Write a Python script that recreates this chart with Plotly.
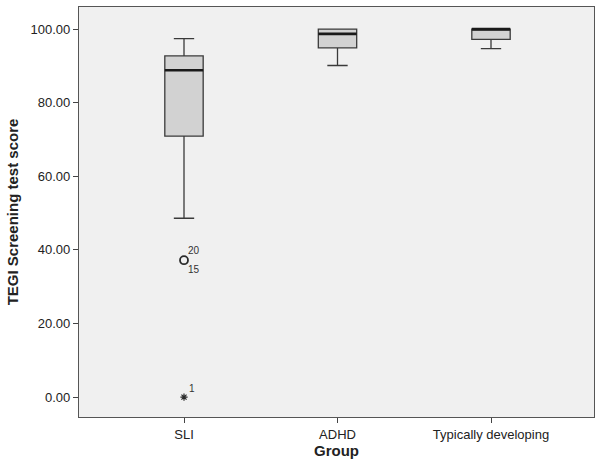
import plotly.graph_objects as go

groups = ["SLI", "ADHD", "Typically developing"]
q1 = [70.9, 94.9, 97.2]
median = [88.8, 98.7, 100.0]
q3 = [92.7, 100.0, 100.0]
lowerfence = [48.6, 90.1, 94.7]
upperfence = [97.4, 100.0, 100.0]

outlier_group = ["SLI", "SLI"]
outlier_value = [37.2, 0.0]
outlier_symbol = ["circle-open", "asterisk-open"]
outlier_labels = [["20", "15"], ["1"]]

box_w = 0.25
font = "Liberation Sans, Arial, sans-serif"

fig = go.Figure()
for i, g in enumerate(groups):
    fig.add_trace(go.Box(
        x=[g], q1=[q1[i]], median=[median[i]], q3=[q3[i]],
        lowerfence=[lowerfence[i]], upperfence=[upperfence[i]],
        width=box_w, whiskerwidth=0.53,
        fillcolor="#d2d2d2", line=dict(color="#3a3a3a", width=1.3),
        boxpoints=False, showlegend=False, hoverinfo="skip"))
    fig.add_shape(type="line", xref="x", yref="y",
                  x0=i - box_w / 2, x1=i + box_w / 2, y0=median[i], y1=median[i],
                  line=dict(color="#1a1a1a", width=2.6))

for g, v, s, labs in zip(outlier_group, outlier_value, outlier_symbol, outlier_labels):
    fig.add_trace(go.Scatter(x=[g], y=[v], mode="markers",
                             marker=dict(symbol=s, size=8 if s.startswith("circle") else 6,
                                         color="#2a2a2a", line=dict(width=1.8 if s.startswith("circle") else 1.2,
                                                                    color="#2a2a2a")),
                             showlegend=False, hoverinfo="skip"))
    gi = groups.index(g)
    if len(labs) == 2:
        fig.add_annotation(x=gi, y=v, xref="x", yref="y", text=labs[0], showarrow=False,
                           xshift=10, yshift=10, font=dict(family=font, size=10, color="#333"))
        fig.add_annotation(x=gi, y=v, xref="x", yref="y", text=labs[1], showarrow=False,
                           xshift=10, yshift=-9, font=dict(family=font, size=10, color="#333"))
    else:
        fig.add_annotation(x=gi, y=v, xref="x", yref="y", text=labs[0], showarrow=False,
                           xshift=8, yshift=9, font=dict(family=font, size=10, color="#333"))

fig.update_layout(
    width=602, height=473,
    margin=dict(l=79, r=8, t=7, b=56),
    paper_bgcolor="white", plot_bgcolor="#f0f0f0",
    font=dict(family=font, size=13, color="#222"),
    xaxis=dict(type="category", categoryorder="array", categoryarray=groups,
               range=[-0.684, 2.671], showgrid=False, zeroline=False,
               showline=True, linecolor="#555", linewidth=1.2, mirror=True,
               ticks="outside", ticklen=5, tickcolor="#444",
               title=dict(text="<b>Group</b>", font=dict(size=15, family=font), standoff=2)),
    yaxis=dict(range=[-5.4, 106], tickvals=[0, 20, 40, 60, 80, 100], tickformat=".2f",
               showgrid=False, zeroline=False,
               showline=True, linecolor="#555", linewidth=1.2, mirror=True,
               ticks="outside", ticklen=5, tickcolor="#444",
               title=dict(text="<b>TEGI Screening test score</b>", font=dict(size=15, family=font), standoff=8)),
)

fig.write_html("out.html", config={"displayModeBar": False},
               post_script="document.body.style.margin='0';")
